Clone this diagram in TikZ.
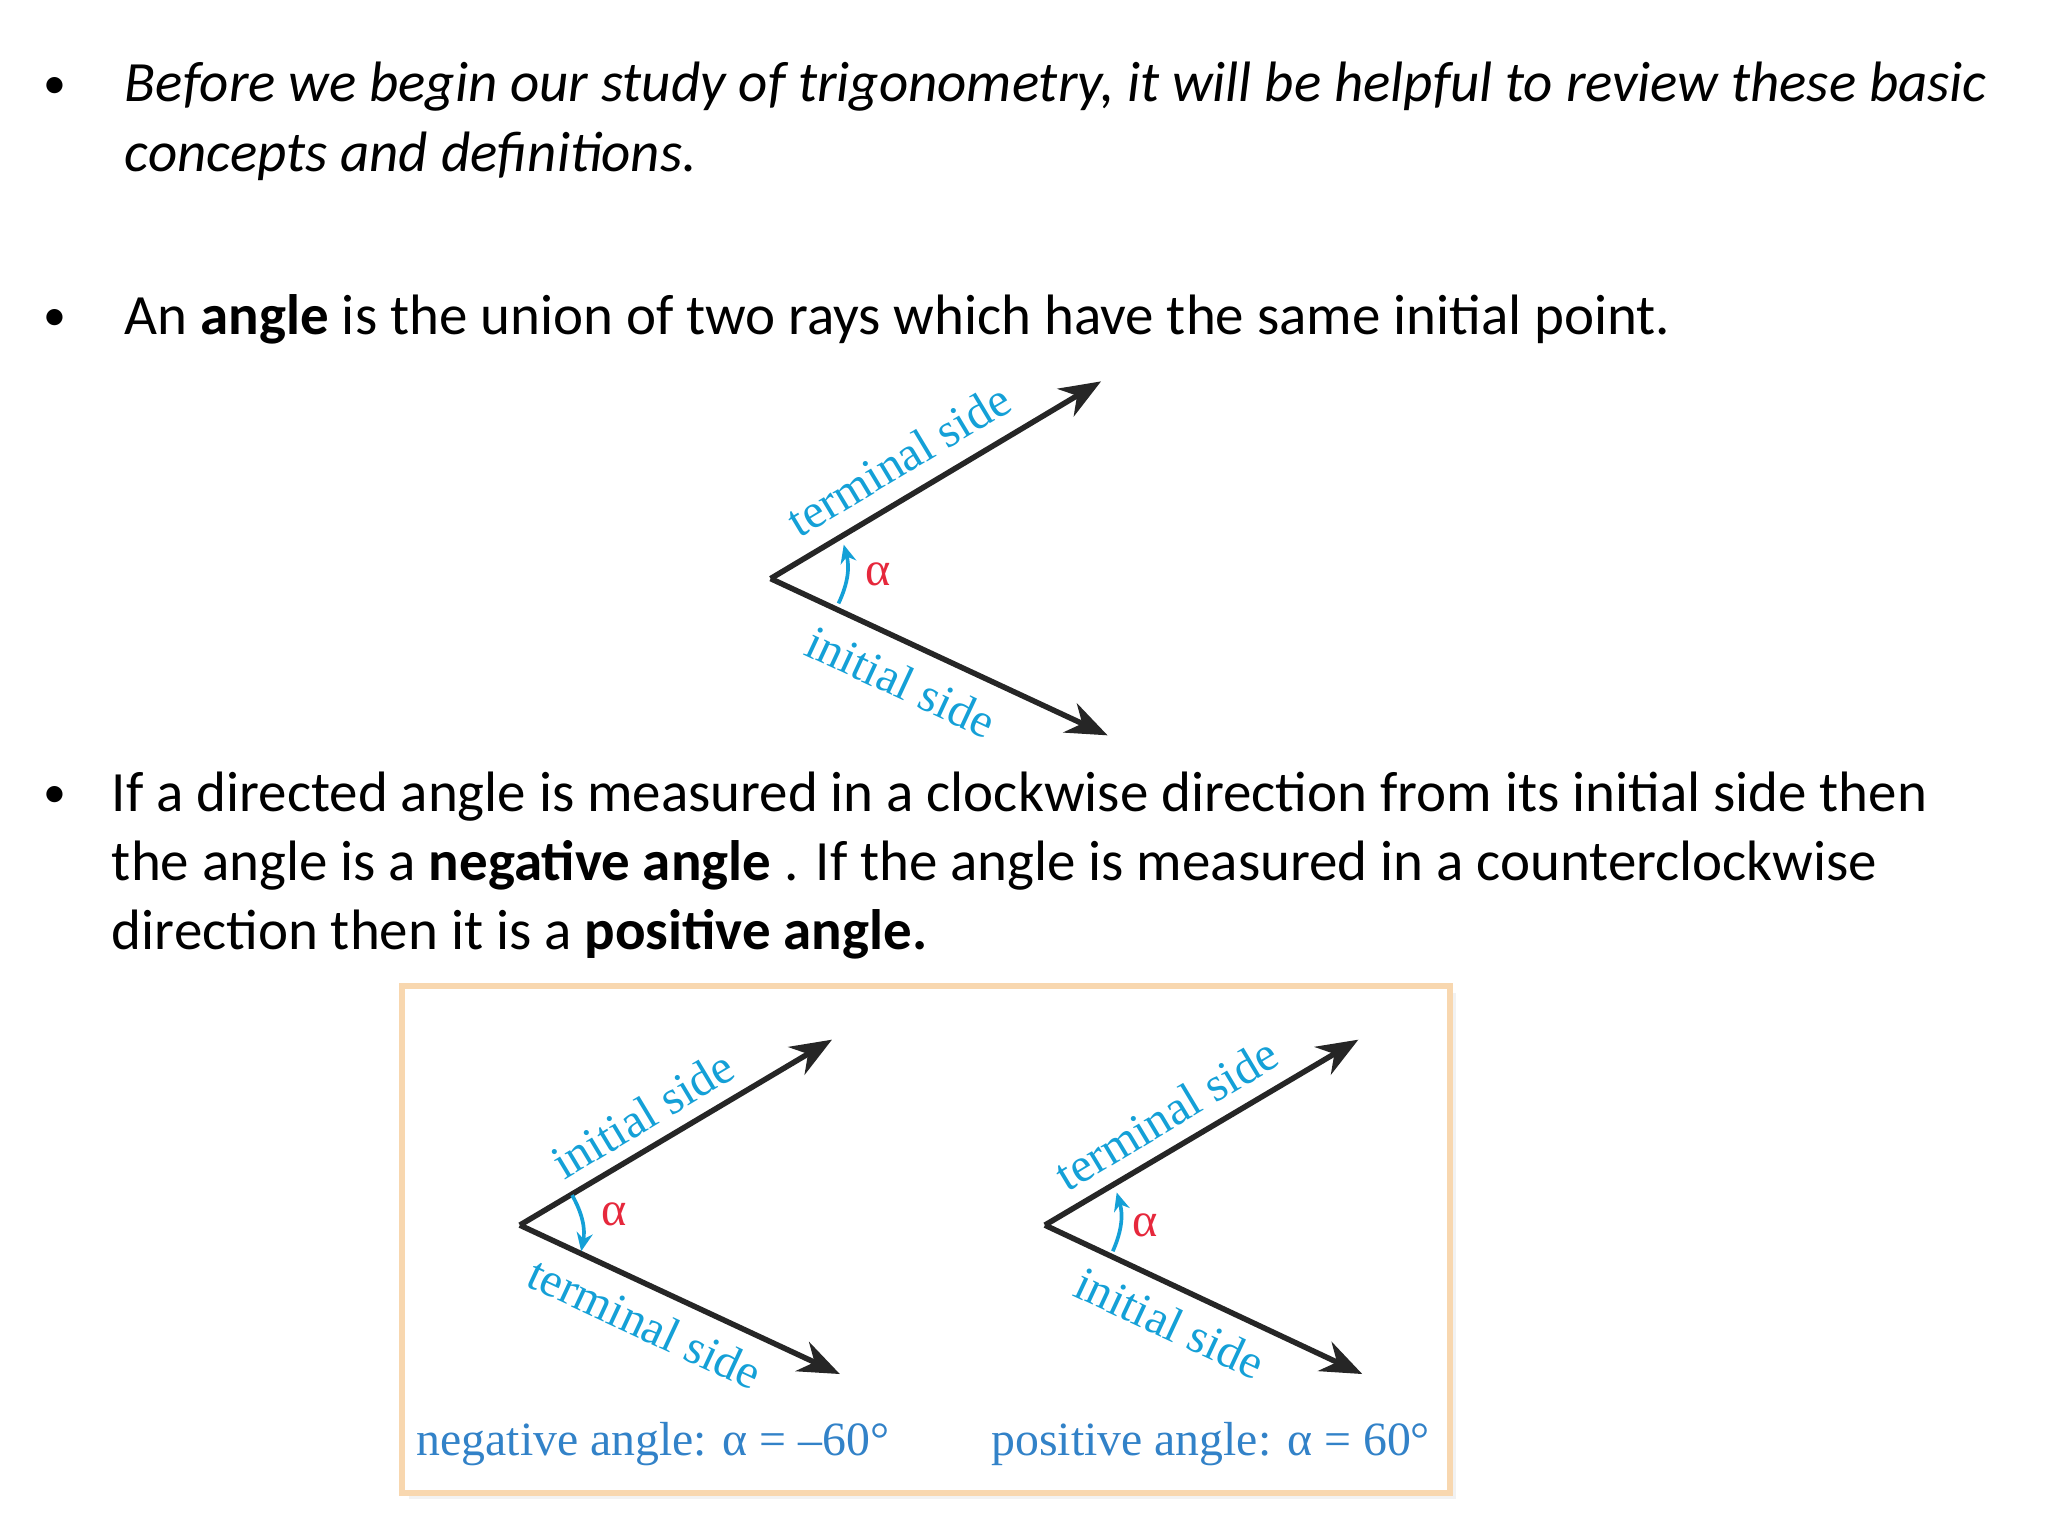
\documentclass[tikz,border=0pt]{standalone}
\usepackage{fontspec}
\setmainfont{Carlito}
\newfontfamily\lab{Liberation Serif}
\usetikzlibrary{arrows.meta}
\definecolor{cy}{RGB}{20,160,215}
\definecolor{cp}{RGB}{50,130,200}
\definecolor{al}{RGB}{230,40,60}
\definecolor{bx}{RGB}{248,215,175}
\tikzset{
 txt/.style={anchor=base west,inner sep=0pt,font=\fontsize{12.4}{15}\selectfont},
 ray/.style={line width=1.2pt,draw=black!85,-{Stealth[length=9pt,width=7pt]}},
 lbl/.style={font=\lab\fontsize{10.5}{12}\selectfont,text=cy,inner sep=0pt},
 alp/.style={font=\lab\fontsize{10.5}{12}\selectfont,text=al,inner sep=0pt},
 captxt/.style={font=\lab\fontsize{10.4}{12}\selectfont,text=cp,inner sep=0pt},
 arcarrow/.style={cy,line width=0.8pt,-{Stealth[length=4pt,width=3.5pt]}},
 bul/.style={inner sep=0pt,font=\fontsize{10}{12}\selectfont}
}
\begin{document}
\begin{tikzpicture}[x=0.01cm,y=-0.01cm]
\useasboundingbox (0,0) rectangle (1568,1176);
\node[bul] (b1) at (42,67) {•};
\node[txt] (t1) at (95,78) {\itshape Before we begin our study of trigonometry, it will be helpful to review these basic};
\node[txt] (t2) at (95,131) {\itshape concepts and definitions.};
\node[bul] (b2) at (42,245) {•};
\node[txt] (t3) at (95,256) {An \textbf{angle} is the union of two rays which have the same initial point.};
% angle 1
\coordinate (v) at (590,443);
\coordinate (te) at (843,292);
\coordinate (ie) at (848,563);
\draw[ray] (v) -- (te);
\draw[ray] (v) -- (ie);
\node[lbl,rotate=31] (tl) at (688,352) {terminal side};
\node[lbl,rotate=-25] (il) at (690,522) {initial side};
\node[alp] (a1) at (672,440) {α};
\draw[arcarrow] (642,462) to[bend right=20] (646,417);
% bullet 3
\node[bul] (b3) at (42,610) {•};
\node[txt] (t4) at (85,621) {If a directed angle is measured in a clockwise direction from its initial side then};
\node[txt] (t5) at (85,674) {the angle is a \textbf{negative angle} . If the angle is measured in a counterclockwise};
\node[txt] (t6) at (85,727) {direction then it is a \textbf{positive angle.}};
% box
\fill[gray!10] (313,760) rectangle (1115,1148);
\draw[bx,line width=1.3pt,fill=white] (308,755) rectangle (1110,1143);
% left
\coordinate (lv) at (398,938);
\coordinate (lu) at (637,796);
\coordinate (ld) at (643,1052);
\draw[ray] (lv) -- (lu);
\draw[ray] (lv) -- (ld);
\node[lbl,rotate=31] (li) at (492,853) {initial side};
\node[lbl,rotate=-25] (lt) at (494,1013) {terminal side};
\node[alp] (a2) at (470,930) {α};
\draw[arcarrow] (438,915) to[bend left=20] (445,958);
\node[captxt] (c1) at (500,1106) {negative angle: α = –60°};
% right
\coordinate (rv) at (800,938);
\coordinate (ru) at (1040,796);
\coordinate (rd) at (1043,1052);
\draw[ray] (rv) -- (ru);
\draw[ray] (rv) -- (rd);
\node[lbl,rotate=31] (rt) at (893,853) {terminal side};
\node[lbl,rotate=-25] (ri) at (896,1013) {initial side};
\node[alp] (a3) at (877,938) {α};
\draw[arcarrow] (852,958) to[bend right=20] (855,913);
\node[captxt] (c2) at (927,1106) {positive angle: α = 60°};
\end{tikzpicture}
\end{document}
